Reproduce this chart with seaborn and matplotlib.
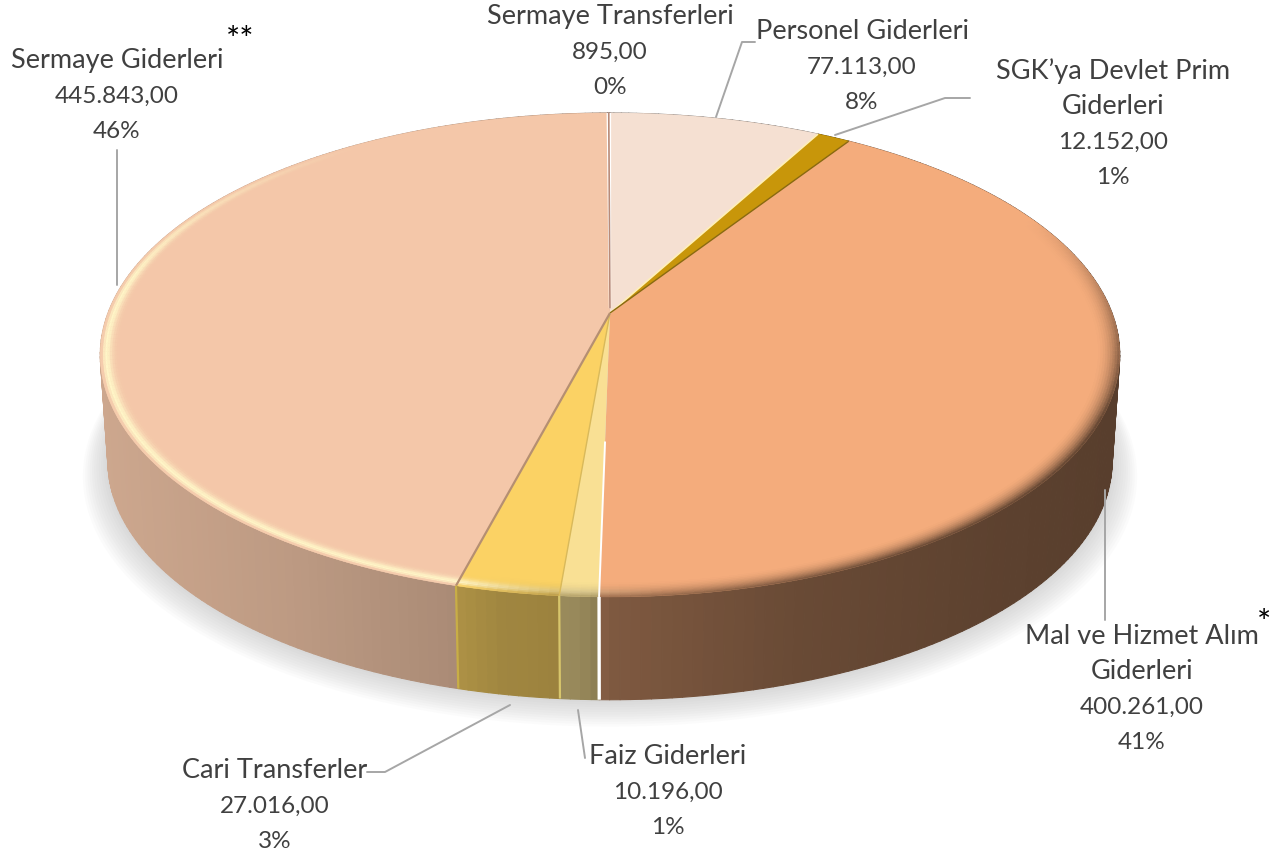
import numpy as np
import matplotlib
matplotlib.use("Agg")
import matplotlib.pyplot as plt
import seaborn as sns

from matplotlib.collections import PolyCollection
from matplotlib.colors import to_rgb
from matplotlib.patches import Polygon
from matplotlib.transforms import Transform

categories = ["Personel Giderleri", "SGK’ya Devlet Prim\nGiderleri",
              "Mal ve Hizmet Alım\nGiderleri", "Faiz Giderleri",
              "Cari Transferler", "Sermaye Giderleri", "Sermaye Transferleri"]
amounts = [77113, 12152, 400261, 10196, 27016, 445843, 895]
slice_colors = ["#F5E0D2", "#C8960A", "#F4AC7C", "#F9E094", "#FBD264",
                "#F4C7A9", "#B98B78"]

label_centers = [(862, 67), (1113, 124), (1142, 689), (668, 792), (275, 806),
                 (117, 96), (610, 52)]
leaders = [[(755, 42), (742, 42), (716, 117)],
           [(970, 98), (945, 98), (835, 135)],
           [(1105, 490), (1105, 620)],
           [(585, 758), (578, 710)],
           [(367, 772), (385, 772), (510, 705)],
           [(117, 150), (117, 285)]]

# camera of the tilted disc, pixels of the picture
APEX = (610, 313)
A, B, K = 502.0, 234.7, 0.1736
DROP, SHRINK = 107.0, 0.985
LINE_STEP = 35


def project(x, y, scale=1.0, drop=0.0):
    w = 1 + K * y
    return APEX[0] + scale * A * x / w, APEX[1] + drop - scale * B * y / w


class TiltTransform(Transform):
    input_dims = output_dims = 2
    is_affine = False

    def transform_non_affine(self, values):
        values = np.asarray(values, dtype=float)
        return np.column_stack(project(values[:, 0], values[:, 1]))


def rim(angle, radius=1.0, scale=1.0, drop=0.0):
    rad = np.radians(angle)
    return project(radius * np.cos(rad), radius * np.sin(rad), scale, drop)


def wall_factor(px):
    return np.interp(px, [100, 300, 450, 500, 580, 610, 800, 1000, 1120],
                     [.84, .77, .70, .64, .61, .52, .43, .38, .36])


def radial(ax, angle, r0, r1, color, lw):
    p0, p1 = rim(angle, r0), rim(angle, r1)
    ax.plot([p0[0], p1[0]], [p0[1], p1[1]], color=color, lw=lw,
            solid_capstyle="butt", zorder=6)


def wall_seam(ax, angle, color, lw):
    p0, p1 = rim(angle), rim(angle, 1, SHRINK, DROP)
    ax.plot([p0[0], p1[0]], [p0[1], p1[1]], color=color, lw=lw,
            solid_capstyle="butt", zorder=6)


def draw_shadow(ax):
    t = np.radians(np.arange(0, 360, 2))
    for grow in np.linspace(1.05, 1.0, 12):
        xy = np.column_stack(project(np.cos(t), np.sin(t), SHRINK * grow,
                                     DROP + (grow - 1) * 260))
        ax.add_patch(Polygon(xy, closed=True, fc="#808080", ec="none",
                             alpha=0.026, zorder=1))


def draw_walls(ax, wedges, colors):
    quads, faces = [], []
    for wedge, color in zip(wedges, colors):
        base = np.array(to_rgb(color))
        angles = np.append(np.arange(wedge.theta1, wedge.theta2, 1.0), wedge.theta2)
        for a0, a1 in zip(angles[:-1], angles[1:]):
            top0, top1 = rim(a0), rim(a1)
            low0, low1 = rim(a0, 1, SHRINK, DROP), rim(a1, 1, SHRINK, DROP)
            quads.append([top0, top1, low1, low0])
            faces.append(base * wall_factor((top0[0] + top1[0]) / 2))
    ax.add_collection(PolyCollection(quads, facecolors=faces, edgecolors=faces,
                                     linewidths=0.8, zorder=2))


def draw_bevel(ax, wedges, colors):
    cream = np.array([1.0, 0.96, 0.78])
    edges = np.linspace(0.955, 1.0, 11)
    quads, faces = [], []
    for wedge, color in zip(wedges, colors):
        base = np.array(to_rgb(color))
        angles = np.append(np.arange(wedge.theta1, wedge.theta2, 1.0), wedge.theta2)
        for a0, a1 in zip(angles[:-1], angles[1:]):
            clock = (90 - (a0 + a1) / 2) % 360
            glow = np.interp(clock, [175, 195, 280, 325], [0, 1, 1, 0])
            dark = np.interp(clock, [65, 115, 150, 185, 195], [0, 1, 1, 0.7, 0])
            px = rim((a0 + a1) / 2)[0]
            for r0, r1 in zip(edges[:-1], edges[1:]):
                t = ((r0 + r1) / 2 - edges[0]) / (edges[-1] - edges[0])
                rgb = base + (cream - base) * glow * np.sin(np.pi * t ** 2.3) ** 2
                rgb = rgb + (base * wall_factor(px) - rgb) * dark * t ** 2
                quads.append([rim(a0, r0), rim(a1, r0), rim(a1, r1), rim(a0, r1)])
                faces.append(np.clip(rgb, 0, 1))
    ax.add_collection(PolyCollection(quads, facecolors=faces, edgecolors=faces,
                                     linewidths=0.3, zorder=4))


def draw_label(ax, name, amount, total, cx, cy):
    number = f"{amount:,.2f}".replace(",", "#").replace(".", ",").replace("#", ".")
    percent = f"{amount / total * 100:.0f}%"
    lines = [(part, 19.5) for part in name.split("\n")]
    lines += [(number, 17.5), (percent, 17.5)]
    for i, (text, size) in enumerate(lines):
        y = cy + 7 + (i - (len(lines) - 1) / 2) * LINE_STEP
        ax.text(cx, y, text, ha="center", va="baseline", fontsize=size,
                color="#404040", zorder=8)


def main():
    sns.set_theme(style="white")
    plt.rcParams["font.family"] = ["Lato", "DejaVu Sans"]

    fig = plt.figure(figsize=(12.84, 8.55), dpi=100)
    ax = fig.add_axes([0, 0, 1, 1])

    wedges, _ = ax.pie(amounts, colors=slice_colors, startangle=90,
                       counterclock=False, radius=1.0,
                       wedgeprops={"linewidth": 0})
    tilt = TiltTransform() + ax.transData
    for wedge in wedges:
        wedge.set_transform(tilt)
        wedge.set_zorder(3)

    ax.set_aspect("auto")
    ax.set_xlim(0, 1284)
    ax.set_ylim(855, 0)
    ax.axis("off")

    draw_shadow(ax)
    draw_walls(ax, wedges, slice_colors)
    draw_bevel(ax, wedges, slice_colors)

    # seams between the slices, clockwise pie so theta1 is the far end of a slice
    personel, sgk, mal, faiz, cari, sermaye, transfer = wedges
    radial(ax, personel.theta2, 0.02, 1.0, "white", 1.6)
    radial(ax, sermaye.theta1, 0.02, 1.0, "white", 1.4)
    radial(ax, (transfer.theta1 + transfer.theta2) / 2, 0.02, 1.0, "#B98B78", 1.2)
    radial(ax, sgk.theta2, 0.0, 1.0, "#FFF0B8", 1.2)
    radial(ax, sgk.theta1, 0.0, 1.0, "#8A6A10", 1.0)
    radial(ax, mal.theta1, 0.5, 1.0, "white", 1.4)
    wall_seam(ax, mal.theta1, "white", 2.4)
    radial(ax, faiz.theta1, 0.0, 1.0, "#D9B95A", 1.0)
    wall_seam(ax, faiz.theta1, "#D8C66C", 1.6)
    radial(ax, cari.theta1, 0.0, 1.0, "#B58F72", 1.6)
    wall_seam(ax, cari.theta1, "#C8AE46", 1.6)

    for points in leaders:
        xs, ys = zip(*points)
        ax.plot(xs, ys, color="#A6A6A6", lw=1.4, zorder=7)

    total = sum(amounts)
    for name, amount, (cx, cy) in zip(categories, amounts, label_centers):
        draw_label(ax, name, amount, total, cx, cy)
    ax.text(240, 41, "**", ha="center", va="center", fontsize=24, color="black")
    ax.text(1264, 624, "*", ha="center", va="center", fontsize=24, color="black")

    fig.savefig("out.png", dpi=100, facecolor="white")


if __name__ == "__main__":
    main()
